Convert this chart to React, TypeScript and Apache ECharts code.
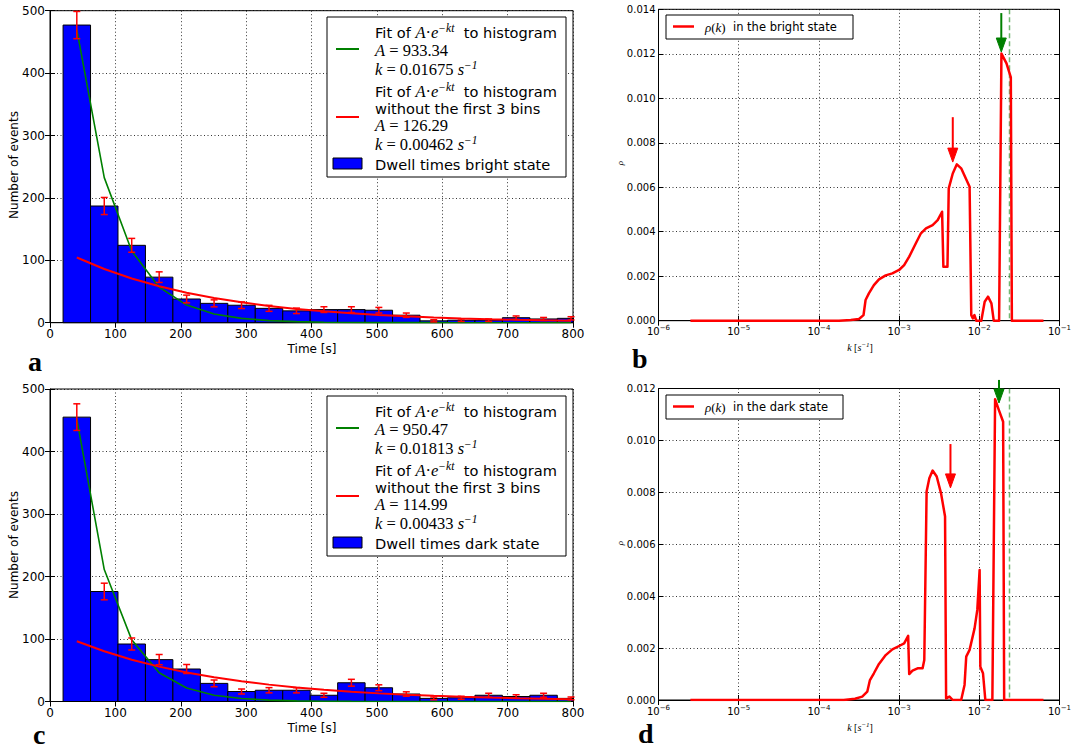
import React, { useEffect, useRef } from "react";
import * as echarts from "echarts";

// ---------- data ----------
const binEdges = [20, 62, 104, 146, 188, 230, 272, 314, 356, 398, 440, 482, 524, 566, 608, 650, 692, 734, 776, 818];
const binCenters = [41, 83, 125, 167, 209, 251, 293, 335, 377, 419, 461, 503, 545, 587, 629, 671, 713, 755, 797];

const brightCounts = [477, 187, 124, 73, 38, 31, 28, 23, 19, 21, 21, 20, 12, 3, 4, 4, 8, 6, 7];
const brightErrors = [21.8, 13.7, 11.1, 8.5, 6.2, 5.6, 5.3, 4.8, 4.4, 4.6, 4.6, 4.5, 3.5, 1.7, 2.0, 2.0, 2.8, 2.4, 2.6];
const brightFitAll = [469.7, 232.5, 115.0, 56.9, 28.2, 13.9, 6.9, 3.4, 1.7, 0.84, 0.41, 0.2, 0.1, 0.05, 0.025, 0.012, 0.006, 0.003, 0.0015];
const brightFitTail = [104.5, 86.1, 70.9, 58.4, 48.1, 39.6, 32.6, 26.9, 22.1, 18.2, 15.0, 12.4, 10.2, 8.4, 6.9, 5.7, 4.7, 3.9, 3.2];

const darkCounts = [455, 176, 92, 67, 52, 29, 16, 18, 18, 10, 30, 22, 12, 5, 6, 10, 8, 10, 5];
const darkErrors = [21.3, 13.3, 9.6, 8.2, 7.2, 5.4, 4.0, 4.2, 4.2, 3.2, 5.5, 4.7, 3.5, 2.2, 2.4, 3.2, 2.8, 3.2, 2.2];
const darkFitAll = [451.9, 211.1, 98.6, 46.0, 21.5, 10.0, 4.7, 2.2, 1.0, 0.48, 0.22, 0.1, 0.05, 0.023, 0.011, 0.005, 0.002, 0.001, 0.0005];
const darkFitTail = [96.3, 80.3, 66.9, 55.8, 46.5, 38.8, 32.3, 27.0, 22.5, 18.7, 15.6, 13.0, 10.9, 9.1, 7.5, 6.3, 5.2, 4.4, 3.6];

const brightRhoK = [2.5e-6, 1.78e-4, 2.5e-4, 3.16e-4, 3.6e-4, 3.82e-4, 4.2e-4, 4.85e-4, 5.61e-4, 6.81e-4, 8.24e-4, 1.0e-3, 1.156e-3, 1.337e-3, 1.618e-3, 1.871e-3, 2.163e-3, 2.618e-3, 3.027e-3, 3.436e-3, 3.565e-3, 4.009e-3, 4.159e-3, 4.667e-3, 5.248e-3, 5.943e-3, 7.568e-3, 7.943e-3, 8.318e-3, 8.7e-3, 9.162e-3, 1.059e-2, 1.167e-2, 1.285e-2, 1.416e-2, 1.514e-2, 1.766e-2, 1.888e-2, 2.183e-2, 2.472e-2, 2.547e-2, 6.31e-2];
const brightRho = [0, 0, 0.00003, 0.00008, 0.00025, 0.00093, 0.00123, 0.0016, 0.00186, 0.00204, 0.00213, 0.00228, 0.0025, 0.00288, 0.00348, 0.00393, 0.00415, 0.0043, 0.00452, 0.0049, 0.00243, 0.00243, 0.00595, 0.00662, 0.00703, 0.00685, 0.00602, 0.00025, 0.0001, 0.00025, 0, 0, 0.00085, 0.00108, 0.00078, 0, 0, 0.01201, 0.01157, 0.01094, 0, 0];

const darkRhoK = [2.5e-6, 2.04e-4, 2.82e-4, 3.47e-4, 4.01e-4, 4.33e-4, 4.85e-4, 5.61e-4, 6.81e-4, 8.24e-4, 1.0e-3, 1.156e-3, 1.297e-3, 1.337e-3, 1.469e-3, 1.698e-3, 1.963e-3, 2.061e-3, 2.203e-3, 2.382e-3, 2.618e-3, 2.944e-3, 3.334e-3, 3.741e-3, 3.855e-3, 4.246e-3, 4.667e-3, 5.943e-3, 6.546e-3, 6.871e-3, 7.568e-3, 8.73e-3, 9.441e-3, 1.009e-2, 1.03e-2, 1.112e-2, 1.189e-2, 1.455e-2, 1.574e-2, 1.75e-2, 1.982e-2, 2.042e-2, 6.31e-2];
const darkRho = [0, 0, 0.00005, 0.00013, 0.00032, 0.00077, 0.00103, 0.00139, 0.00173, 0.00195, 0.00208, 0.00218, 0.00247, 0.001, 0.00113, 0.00122, 0.00122, 0.00154, 0.00803, 0.00854, 0.00884, 0.00861, 0.00796, 0.00707, 0.00006, 0.00013, 0, 0, 0.00058, 0.00167, 0.00193, 0.00276, 0.00347, 0.00501, 0.00128, 0.00103, 0, 0, 0.01159, 0.01118, 0.01072, 0, 0];

const resolutionK = 0.0238; // dashed green line
// arrows: [k, start rho, tip rho]
const brightArrowRed = [0.00467, 0.00915, 0.00713];
const brightArrowGreen = [0.0188, 0.01383, 0.01208];
const darkArrowRed = [0.00437, 0.00986, 0.00817];
const darkArrowGreen = [0.0176, 0.01233, 0.01144];

const brightFitText = { A1: "933.34", k1: "0.01675", A2: "126.29", k2: "0.00462" };
const darkFitText = { A1: "950.47", k1: "0.01813", A2: "114.99", k2: "0.00433" };

// ---------- styling ----------
const SANS = '"DejaVu Sans", Verdana, sans-serif';
const SERIF = '"Liberation Serif", "DejaVu Serif", serif';

const gridBoxes = [
  { left: 50, top: 10.7, width: 523, height: 312 },
  { left: 658.5, top: 9.3, width: 401, height: 311.4 },
  { left: 50, top: 389, width: 523, height: 312.5 },
  { left: 658.5, top: 388.5, width: 401, height: 311.5 },
];

const splitLine = { show: true, lineStyle: { color: "#000", width: 0.8, type: [1, 2.5] } };
const tickIn = { show: true, inside: true, length: 5, lineStyle: { color: "#000", width: 1 } };

function barRender(params: any, api: any) {
  const x0 = api.value(0), x1 = api.value(1), h = api.value(2);
  const p0 = api.coord([x0, h]);
  const p1 = api.coord([x1, 0]);
  const cs = params.coordSys;
  const shape = echarts.graphic.clipRectByRect(
    { x: p0[0], y: p0[1], width: p1[0] - p0[0], height: p1[1] - p0[1] },
    { x: cs.x, y: cs.y, width: cs.width, height: cs.height }
  );
  if (!shape) return null;
  return { type: "rect", shape, style: { fill: "#0000ff", stroke: "#000", lineWidth: 1 } };
}

function errRender(params: any, api: any) {
  const x = api.value(0), y = api.value(1), e = api.value(2);
  const t = api.coord([x, y + e]);
  const b = api.coord([x, y - e]);
  const cap = 3.5;
  const st = { stroke: "#ff0000", lineWidth: 1.5 };
  return {
    type: "group",
    children: [
      { type: "line", shape: { x1: t[0], y1: t[1], x2: b[0], y2: b[1] }, style: st },
      { type: "line", shape: { x1: t[0] - cap, y1: t[1], x2: t[0] + cap, y2: t[1] }, style: st },
      { type: "line", shape: { x1: b[0] - cap, y1: b[1], x2: b[0] + cap, y2: b[1] }, style: st },
    ],
  };
}

function buildAxes() {
  const xAxis: any[] = [];
  const yAxis: any[] = [];
  for (let g = 0; g < 4; g++) {
    const isLog = g % 2 === 1;
    const xBase: any = isLog
      ? { type: "log", logBase: 10, min: 1e-6, max: 0.1 }
      : { type: "value", min: 0, max: 800, interval: 100 };
    xAxis.push({
      ...xBase,
      gridIndex: g,
      position: "bottom",
      axisLine: { show: true, lineStyle: { color: "#000", width: 1 } },
      axisTick: tickIn,
      splitLine,
      axisLabel: isLog
        ? {
            margin: 4,
            formatter: (v: number) => {
              const e = Math.round(Math.log10(v));
              return `{b|10}{s|${e < 0 ? "\u2212" : ""}${Math.abs(e)}}`;
            },
            rich: {
              b: { fontFamily: SANS, fontSize: 10, color: "#000", lineHeight: 14 },
              s: { fontFamily: SANS, fontSize: 7, color: "#000", lineHeight: 8, verticalAlign: "top" },
            },
          }
        : { margin: 5, fontFamily: SANS, fontSize: 12, color: "#000" },
    });
    xAxis.push({
      ...xBase,
      gridIndex: g,
      position: "top",
      axisLine: { show: false },
      axisTick: tickIn,
      splitLine: { show: false },
      axisLabel: { show: false },
    });
    const yBase: any = isLog
      ? { type: "value", min: 0, max: g === 1 ? 0.014 : 0.012, interval: 0.002 }
      : { type: "value", min: 0, max: 500, interval: 100 };
    yAxis.push({
      ...yBase,
      gridIndex: g,
      position: "left",
      axisLine: { show: true, lineStyle: { color: "#000", width: 1 } },
      axisTick: tickIn,
      splitLine,
      axisLabel: isLog
        ? { margin: 3, fontFamily: SANS, fontSize: 10, color: "#000", formatter: (v: number) => v.toFixed(3) }
        : { margin: 5, fontFamily: SANS, fontSize: 12, color: "#000" },
    });
    yAxis.push({
      ...yBase,
      gridIndex: g,
      position: "right",
      axisLine: { show: false },
      axisTick: tickIn,
      splitLine: { show: false },
      axisLabel: { show: false },
    });
  }
  return { xAxis, yAxis };
}

function histSeries(g: number, counts: number[], errs: number[], fitAll: number[], fitTail: number[]) {
  const ax = { xAxisIndex: 2 * g, yAxisIndex: 2 * g };
  return [
    {
      type: "custom",
      ...ax,
      renderItem: barRender,
      encode: { x: [0, 1], y: 2 },
      data: counts.map((c, i) => [binEdges[i], binEdges[i + 1], c]),
      z: 2,
      silent: true,
    },
    {
      type: "line",
      ...ax,
      data: binCenters.map((c, i) => [c, fitAll[i]]),
      symbol: "none",
      lineStyle: { color: "#008000", width: 1.6 },
      z: 3,
      silent: true,
    },
    {
      type: "line",
      ...ax,
      data: binCenters.map((c, i) => [c, fitTail[i]]),
      symbol: "none",
      lineStyle: { color: "#ff0000", width: 2 },
      z: 4,
      silent: true,
    },
    {
      type: "custom",
      ...ax,
      renderItem: errRender,
      encode: { x: 0, y: 1 },
      data: counts.map((c, i) => [binCenters[i], c, errs[i]]),
      z: 5,
      silent: true,
    },
  ];
}

function rhoSeries(g: number, ks: number[], rho: number[]) {
  return {
    type: "line",
    xAxisIndex: 2 * g,
    yAxisIndex: 2 * g,
    data: ks.map((k, i) => [k, rho[i]]),
    symbol: "none",
    lineStyle: { color: "#ff0000", width: 2.5, join: "round" },
    z: 3,
    silent: true,
  };
}

// rich styles for legend text
const legendRich = {
  t: { fontFamily: SANS, fontSize: 14.6, color: "#000", lineHeight: 20 },
  m: { fontFamily: SERIF, fontStyle: "italic", fontSize: 16.5, color: "#000", lineHeight: 20 },
  n: { fontFamily: SERIF, fontSize: 16.5, color: "#000", lineHeight: 20 },
  s: { fontFamily: SERIF, fontStyle: "italic", fontSize: 11.5, color: "#000", lineHeight: 11, verticalAlign: "top" },
};

function txt(x: number, y: number, text: string, rich: any, extra: any = {}) {
  return {
    type: "text",
    x,
    y,
    z: 101,
    silent: true,
    style: { text, rich, align: "left", verticalAlign: "middle", ...extra },
  };
}

function histLegend(y0: number, f: any, label: string) {
  const x0 = 327;
  const tx = 375;
  const fitLine = "{t|Fit of }{m|A}{n|\u00b7}{m|e}{s|\u2212kt}{t|  to histogram}";
  return [
    { type: "rect", z: 100, silent: true, shape: { x: x0, y: y0, width: 239, height: 160 }, style: { fill: "#fff", stroke: "#000", lineWidth: 1 } },
    txt(tx, y0 + 15, fitLine, legendRich),
    txt(tx, y0 + 33, `{m|A}{n| = ${f.A1}}`, legendRich),
    txt(tx, y0 + 52, `{m|k}{n| = ${f.k1} }{m|s}{s|\u22121}`, legendRich),
    txt(tx, y0 + 74, fitLine, legendRich),
    txt(tx, y0 + 91, "{t|without the first 3 bins}", legendRich),
    txt(tx, y0 + 108, `{m|A}{n| = ${f.A2}}`, legendRich),
    txt(tx, y0 + 127, `{m|k}{n| = ${f.k2} }{m|s}{s|\u22121}`, legendRich),
    txt(tx, y0 + 147, `{t|${label}}`, legendRich),
    { type: "line", z: 101, silent: true, shape: { x1: 336, y1: y0 + 32, x2: 359, y2: y0 + 32 }, style: { stroke: "#008000", lineWidth: 2 } },
    { type: "line", z: 101, silent: true, shape: { x1: 336, y1: y0 + 100, x2: 359, y2: y0 + 100 }, style: { stroke: "#ff0000", lineWidth: 2 } },
    { type: "rect", z: 101, silent: true, shape: { x: 333, y: y0 + 141, width: 29, height: 11 }, style: { fill: "#0000ff", stroke: "#000", lineWidth: 1 } },
  ];
}

const smallRich = {
  t: { fontFamily: SANS, fontSize: 11.5, color: "#000", lineHeight: 16 },
  m: { fontFamily: SERIF, fontStyle: "italic", fontSize: 13, color: "#000", lineHeight: 16 },
  n: { fontFamily: SERIF, fontSize: 13, color: "#000", lineHeight: 16 },
};

function rhoLegend(y0: number, w: number, label: string) {
  return [
    { type: "rect", z: 100, silent: true, shape: { x: 666, y: y0, width: w, height: 24 }, style: { fill: "#fff", stroke: "#000", lineWidth: 1 } },
    { type: "line", z: 101, silent: true, shape: { x1: 673, y1: y0 + 11.5, x2: 694, y2: y0 + 11.5 }, style: { stroke: "#ff0000", lineWidth: 2.5 } },
    txt(705, y0 + 12, `{m|\u03c1}{n|(}{m|k}{n|)}{t|  ${label}}`, smallRich),
  ];
}

const axisNameRich = {
  m: { fontFamily: SERIF, fontStyle: "italic", fontSize: 10, color: "#000", lineHeight: 12 },
  n: { fontFamily: SERIF, fontSize: 10, color: "#000", lineHeight: 12 },
  s: { fontFamily: SERIF, fontStyle: "italic", fontSize: 7, color: "#000", lineHeight: 7, verticalAlign: "top" },
};

function staticGraphics() {
  const letter = (x: number, y: number, t: string) => ({
    type: "text",
    x,
    y,
    z: 101,
    silent: true,
    style: { text: t, font: `bold 28px ${SERIF}`, fill: "#000", align: "left", verticalAlign: "middle" },
  });
  const plain = (x: number, y: number, t: string, rot = 0) => ({
    type: "text",
    x,
    y,
    rotation: rot,
    z: 101,
    silent: true,
    style: { text: t, font: `12px ${SANS}`, fill: "#000", align: "center", verticalAlign: "middle" },
  });
  const kLabel = (y: number) => ({
    type: "text",
    x: 860,
    y,
    z: 101,
    silent: true,
    style: { text: "{m|k}{n| [}{m|s}{s|\u22121}{n|]}", rich: axisNameRich, align: "center", verticalAlign: "middle" },
  });
  const rhoLabel = (y: number) => ({
    type: "text",
    x: 620,
    y,
    rotation: Math.PI / 2,
    z: 101,
    silent: true,
    style: { text: "\u03c1", font: `italic 9px ${SERIF}`, fill: "#000", align: "center", verticalAlign: "middle" },
  });
  return [
    ...histLegend(17, brightFitText, "Dwell times bright state"),
    ...histLegend(396, darkFitText, "Dwell times dark state"),
    ...rhoLegend(15, 187, "in the bright state"),
    ...rhoLegend(395, 177, "in the dark state"),
    plain(312, 349, "Time [s]"),
    plain(312, 728, "Time [s]"),
    plain(14, 165, "Number of events", Math.PI / 2),
    plain(14, 545, "Number of events", Math.PI / 2),
    kLabel(347),
    kLabel(727),
    rhoLabel(163),
    rhoLabel(543),
    letter(28, 361, "a"),
    letter(632, 358, "b"),
    letter(33, 734, "c"),
    letter(638, 733, "d"),
  ];
}

function arrowGraphics(chart: any, axis: number, a: number[], color: string) {
  const finder = { xAxisIndex: axis, yAxisIndex: axis };
  const pTop = chart.convertToPixel(finder, [a[0], a[1]]);
  const pTip = chart.convertToPixel(finder, [a[0], a[2]]);
  if (!pTop || !pTip) return [];
  const x = pTip[0];
  const head = 14;
  const hw = 5;
  return [
    { type: "line", z: 90, silent: true, shape: { x1: x, y1: pTop[1], x2: x, y2: pTip[1] - head + 2 }, style: { stroke: color, lineWidth: 2 } },
    {
      type: "polygon",
      z: 90,
      silent: true,
      shape: { points: [[x, pTip[1]], [x - hw, pTip[1] - head], [x + hw, pTip[1] - head]] },
      style: { fill: color, stroke: color, lineWidth: 1 },
    },
  ];
}

function dashedK(chart: any, axis: number, grid: any, k: number) {
  const p = chart.convertToPixel({ xAxisIndex: axis, yAxisIndex: axis }, [k, 0]);
  if (!p) return [];
  return [
    {
      type: "line",
      z: 2,
      silent: true,
      shape: { x1: p[0], y1: grid.top, x2: p[0], y2: grid.top + grid.height },
      style: { stroke: "rgba(0,128,0,0.55)", lineWidth: 1.5, lineDash: [5, 3] },
    },
  ];
}

export default function App() {
  const ref = useRef<HTMLDivElement>(null);
  useEffect(() => {
    if (!ref.current) return;
    const chart = echarts.init(ref.current, undefined, { renderer: "svg" });
    const { xAxis, yAxis } = buildAxes();
    chart.setOption({
      animation: false,
      backgroundColor: "#fff",
      grid: gridBoxes.map((g) => ({
        ...g,
        show: true,
        borderColor: "#000",
        borderWidth: 1,
        backgroundColor: "transparent",
        containLabel: false,
        outerBoundsMode: "none",
      })),
      xAxis,
      yAxis,
      series: [
        ...histSeries(0, brightCounts, brightErrors, brightFitAll, brightFitTail),
        rhoSeries(1, brightRhoK, brightRho),
        ...histSeries(2, darkCounts, darkErrors, darkFitAll, darkFitTail),
        rhoSeries(3, darkRhoK, darkRho),
      ],
    });
    const extra = [
      ...dashedK(chart, 2, gridBoxes[1], resolutionK),
      ...dashedK(chart, 6, gridBoxes[3], resolutionK),
      ...arrowGraphics(chart, 2, brightArrowRed, "#ff0000"),
      ...arrowGraphics(chart, 2, brightArrowGreen, "#008000"),
      ...arrowGraphics(chart, 6, darkArrowRed, "#ff0000"),
      ...arrowGraphics(chart, 6, darkArrowGreen, "#008000"),
    ];
    chart.setOption({ graphic: [...staticGraphics(), ...extra] });
    return () => chart.dispose();
  }, []);
  return (
    <div
      ref={ref}
      style={{ position: "absolute", left: 0, top: 0, width: 1071, height: 749, background: "#fff" }}
    />
  );
}
